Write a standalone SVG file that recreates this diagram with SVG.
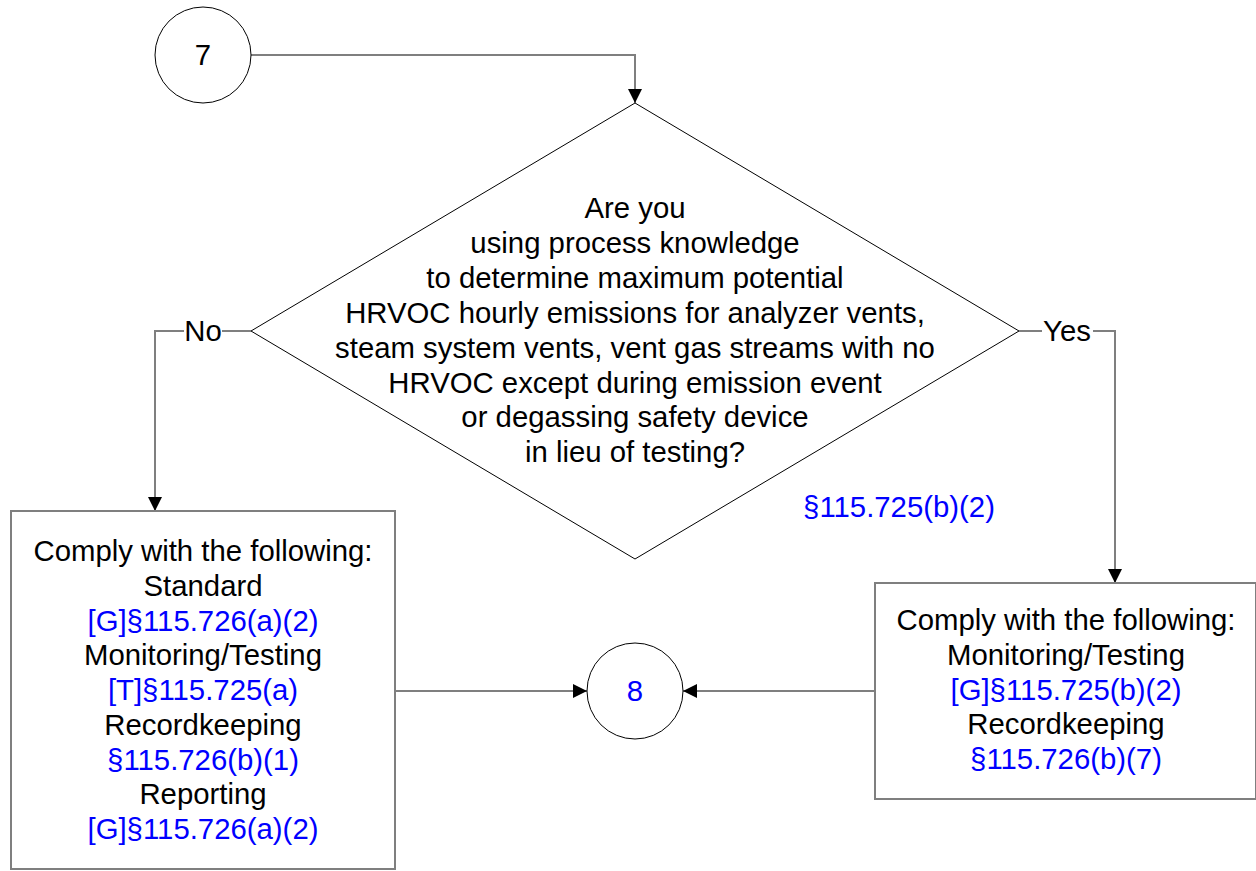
<svg xmlns="http://www.w3.org/2000/svg" width="1256" height="871" viewBox="0 0 1256 871">
<defs>
<marker id="arr" viewBox="0 0 14 14" refX="14" refY="7" markerWidth="14" markerHeight="14" markerUnits="userSpaceOnUse" orient="auto">
<path d="M0,0 L14,7 L0,14 Z" fill="#000"/>
</marker>
<style>
text{font-family:"Liberation Sans",Arial,sans-serif;font-size:29.33px;text-anchor:middle;fill:#000}
.ref{fill:#0000ff}
.shape{fill:#fff;stroke:#000;stroke-width:1}
.box{fill:#fff;stroke:#7f7f7f;stroke-width:2}
.conn{fill:none;stroke:#7f7f7f;stroke-width:2}
.lbl{fill:#fff;stroke:none}
</style>
</defs>
<rect width="1256" height="871" fill="#fff"/>
<g id="connectors">
<polyline class="conn" points="251,55 635,55 635,103" marker-end="url(#arr)"/>
<polyline class="conn" points="251,331 155,331 155,511" marker-end="url(#arr)"/>
<polyline class="conn" points="1019,331 1115,331 1115,583" marker-end="url(#arr)"/>
<line class="conn" x1="395" y1="691" x2="587" y2="691" marker-end="url(#arr)"/>
<line class="conn" x1="875" y1="691" x2="683" y2="691" marker-end="url(#arr)"/>
<rect class="lbl" x="184" y="318" width="38" height="26"/>
<text x="203" y="341">No</text>
<rect class="lbl" x="1042" y="318" width="51" height="26"/>
<text x="1067" y="341">Yes</text>
</g>
<g id="start7">
<circle class="shape" cx="203" cy="55" r="48"/>
<text x="203" y="65">7</text>
</g>
<g id="decision">
<polygon class="shape" points="635,103 1019,331 635,559 251,331"/>
<text x="635" y="218">Are you</text>
<text x="635" y="252.9">using process knowledge</text>
<text x="635" y="287.8">to determine maximum potential</text>
<text x="635" y="322.7">HRVOC hourly emissions for analyzer vents,</text>
<text x="635" y="357.6">steam system vents, vent gas streams with no</text>
<text x="635" y="392.5">HRVOC except during emission event</text>
<text x="635" y="427.4">or degassing safety device</text>
<text x="635" y="462.3">in lieu of testing?</text>
<text class="ref" x="899" y="517">§115.725(b)(2)</text>
</g>
<g id="noBox">
<rect class="box" x="11" y="511" width="384" height="358"/>
<text x="203" y="561">Comply with the following:</text>
<text x="203" y="595.75">Standard</text>
<text class="ref" x="203" y="630.5">[G]§115.726(a)(2)</text>
<text x="203" y="665.25">Monitoring/Testing</text>
<text class="ref" x="203" y="700">[T]§115.725(a)</text>
<text x="203" y="734.75">Recordkeeping</text>
<text class="ref" x="203" y="769.5">§115.726(b)(1)</text>
<text x="203" y="804.25">Reporting</text>
<text class="ref" x="203" y="839">[G]§115.726(a)(2)</text>
</g>
<g id="yesBox">
<rect class="box" x="875" y="583" width="381" height="216"/>
<text x="1066" y="630">Comply with the following:</text>
<text x="1066" y="664.75">Monitoring/Testing</text>
<text class="ref" x="1066" y="699.5">[G]§115.725(b)(2)</text>
<text x="1066" y="734.25">Recordkeeping</text>
<text class="ref" x="1066" y="769">§115.726(b)(7)</text>
</g>
<g id="end8">
<circle class="shape" cx="635" cy="691" r="48"/>
<text class="ref" x="635" y="701">8</text>
</g>
</svg>
